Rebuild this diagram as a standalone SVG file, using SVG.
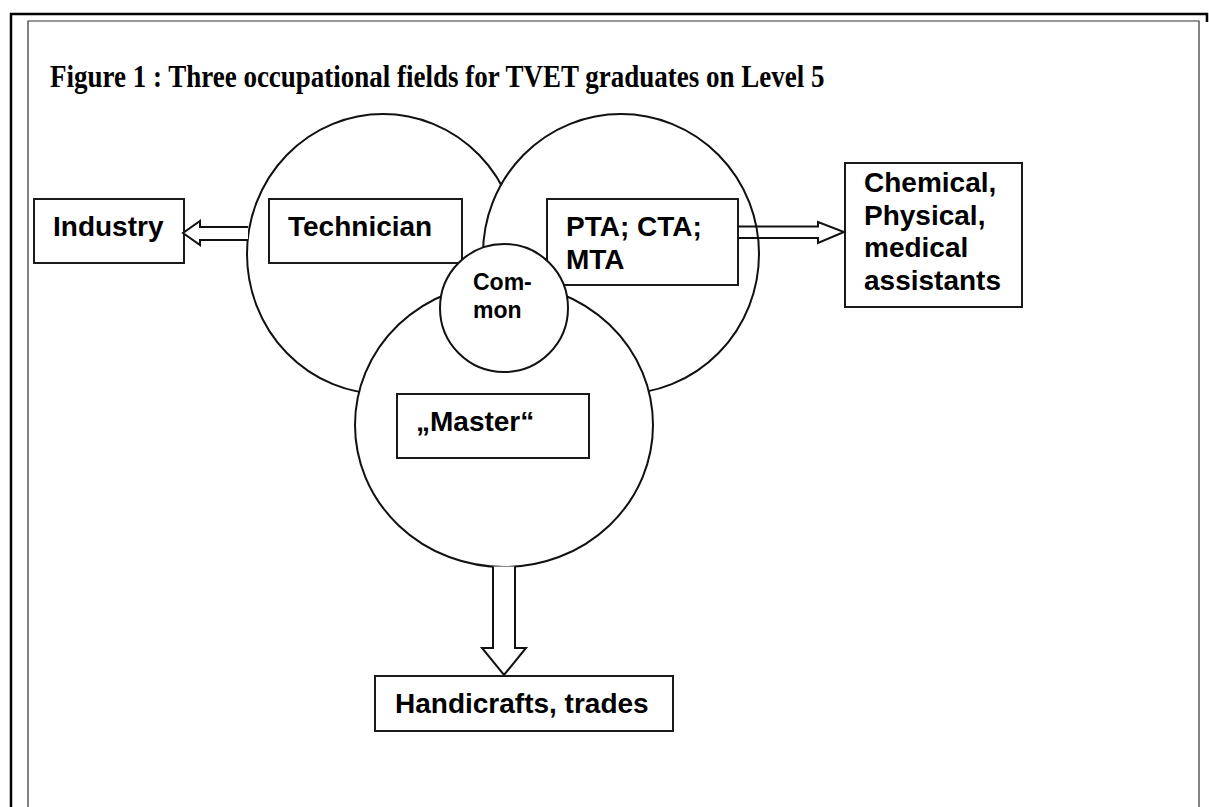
<svg xmlns="http://www.w3.org/2000/svg" width="1209" height="807" viewBox="0 0 1209 807">
  <style>
    .shape { fill: #fff; stroke: #111; stroke-width: 2; }
    .box { fill: #fff; stroke: #1a1a1a; stroke-width: 2; }
    .arrow { stroke: #111; stroke-width: 2; stroke-linejoin: miter; }
    .lbl { font-family: "Liberation Sans", Arial, sans-serif; font-weight: bold; font-size: 28px; fill: #000; }
    .small { font-size: 23px; }
    .title { font-family: "Liberation Serif", "Times New Roman", serif; font-weight: bold; font-size: 27px; fill: #000; }
  </style>

  <rect x="0" y="0" width="1209" height="807" fill="#fff"/>

  <!-- page frame: heavy outer rule and thin inner rule -->
  <path d="M11,807 V14 H1207 V22" fill="none" stroke="#000" stroke-width="2.5"/>
  <path d="M28,807 V21 H1199 V807" fill="none" stroke="#333" stroke-width="1.2"/>

  <!-- caption, slightly tall type -->
  <text class="title" transform="translate(50,87) scale(1,1.18)">Figure 1 : Three occupational fields for TVET graduates on Level 5</text>

  <!-- occupational field circles -->
  <g id="field-technician">
    <ellipse class="shape" cx="383" cy="254" rx="136" ry="140"/>
  </g>
  <g id="field-assistants">
    <ellipse class="shape" cx="621" cy="254" rx="138" ry="140"/>
  </g>
  <g id="field-master">
    <ellipse class="shape" cx="504" cy="425" rx="149" ry="142"/>
  </g>

  <g id="technician">
    <rect class="box" x="269" y="199" width="193" height="64"/>
    <text class="lbl" x="288" y="236">Technician</text>
  </g>
  <g id="pta-cta-mta">
    <rect class="box" x="547" y="199" width="191" height="86"/>
    <text class="lbl" x="566" y="236">PTA; CTA;</text>
    <text class="lbl" x="566" y="269">MTA</text>
  </g>
  <g id="master">
    <rect class="box" x="397" y="394" width="192" height="64"/>
    <text class="lbl" x="416" y="431">„Master“</text>
  </g>

  <g id="common">
    <circle class="shape" cx="504" cy="308" r="64"/>
    <text class="lbl small" x="473" y="290">Com-</text>
    <text class="lbl small" x="473" y="318">mon</text>
  </g>

  <g id="industry">
    <rect class="box" x="34" y="199" width="150" height="64"/>
    <text class="lbl" x="53" y="236">Industry</text>
  </g>
  <g id="chemical-physical-medical">
    <rect class="box" x="845" y="163" width="177" height="144"/>
    <text class="lbl" x="864" y="192">Chemical,</text>
    <text class="lbl" x="864" y="225">Physical,</text>
    <text class="lbl" x="864" y="257">medical</text>
    <text class="lbl" x="864" y="290">assistants</text>
  </g>
  <g id="handicrafts">
    <rect class="box" x="375" y="676" width="298" height="55"/>
    <text class="lbl" x="395" y="713">Handicrafts, trades</text>
  </g>

  <!-- block arrows -->
  <g id="connectors">
    <path class="arrow" fill="#fff" d="M248,227 H200 V221 L183,233 L200,245 V240 H248"/>
    <path class="arrow" fill="none" d="M738,226.5 H818 V222 L844,232 L818,243 V238 H738"/>
    <path class="arrow" fill="#fff" d="M493,566.6 V648 H482 L504,675 L526,648 H515 V566.6"/>
  </g>
</svg>
